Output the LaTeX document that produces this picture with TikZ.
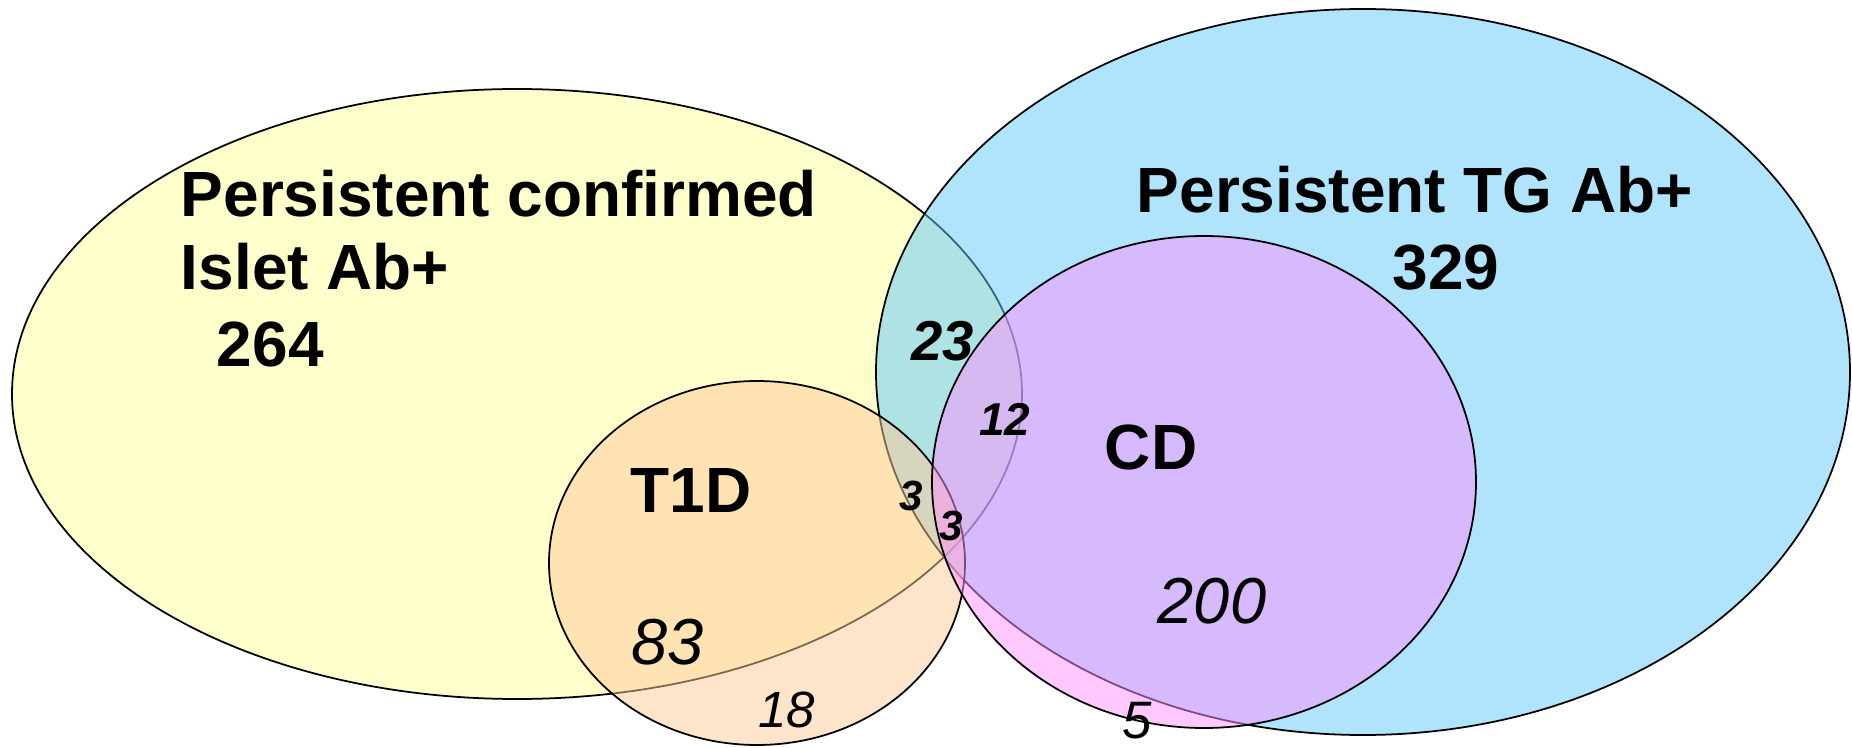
\documentclass[tikz,border=0pt]{standalone}
\usepackage{fontspec}
\setmainfont{Liberation Sans}
\usetikzlibrary{positioning}
\definecolor{IsletFill}{HTML}{FFFFCC}
\definecolor{TgFill}{HTML}{61C9FB}
\definecolor{TidFill}{HTML}{FFC999}
\definecolor{CdFill}{HTML}{FF91FF}
\definecolor{SetInk}{HTML}{000000}

\begin{document}
\begin{tikzpicture}[line width=0.5pt,
  setname/.style={font=\bfseries\fontsize{18.2}{20}\selectfont, inner sep=0pt},
  bigcount/.style={font=\itshape\fontsize{18.5}{20}\selectfont, inner sep=0pt, anchor=base},
  smallcount/.style={font=\bfseries\itshape\fontsize{#1}{#1}\selectfont, inner sep=0pt, anchor=base}]
\useasboundingbox (0,0) rectangle (18.52,7.47);

\filldraw[draw=SetInk, fill=IsletFill] (5.17,3.53) ellipse (5.05 and 3.05);
\filldraw[draw=SetInk, fill=TgFill, fill opacity=0.5] (13.63,3.75) ellipse (4.87 and 3.63);
\filldraw[draw=SetInk, fill=TidFill, fill opacity=0.5] (7.57,1.84) ellipse (2.08 and 1.82);
\filldraw[draw=SetInk, fill=CdFill, fill opacity=0.5] (12.04,2.65) ellipse (2.72 and 2.46);

\node[setname, anchor=base west] (islet) at (1.80,5.31) {Persistent confirmed};
\node[setname, anchor=base west] (islet2) at (1.80,4.58) {Islet Ab+};
\node[setname, anchor=base west] (isletn) at (2.16,3.81) {264};
\node[setname, anchor=base west] (tg) at (11.36,5.34) {Persistent TG Ab+};
\node[setname, anchor=base] (tgn) at (14.46,4.58) {329};
\node[setname, anchor=base west] (tid) at (6.30,2.35) {T1D};
\node[setname, anchor=base west] (cd) at (11.04,2.77) {CD};

\node[bigcount] (n83) at (6.68,0.82) {83};
\node[bigcount] (n200) at (12.12,1.24) {200};
\node[bigcount, font=\itshape\fontsize{14.5}{16}\selectfont] (n18) at (7.87,0.20) {18};
\node[bigcount, font=\itshape\fontsize{15}{16}\selectfont] (n5) at (11.37,0.09) {5};
\node[smallcount=16] (n23) at (9.43,3.87) {23};
\node[smallcount=13.1] (n12) at (10.05,3.12) {12};
\node[smallcount=12] (n3a) at (9.11,2.37) {3};
\node[smallcount=12] (n3b) at (9.51,2.07) {3};
\end{tikzpicture}
\end{document}
